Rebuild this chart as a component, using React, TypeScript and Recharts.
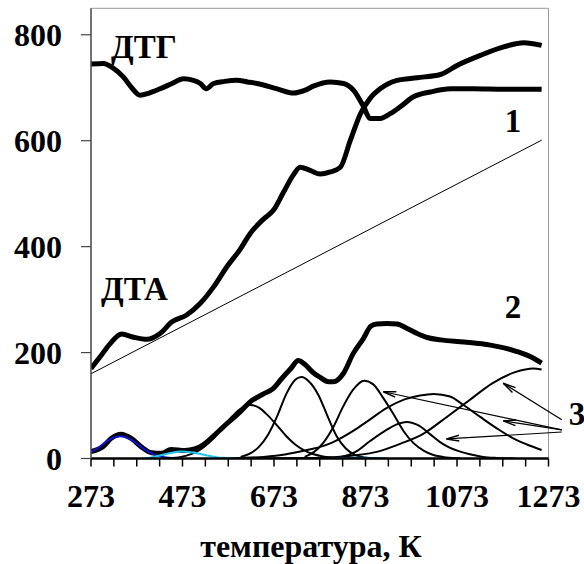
import React from 'react';
import {
  LineChart,
  Line,
  XAxis,
  YAxis,
  ReferenceLine,
  Customized,
} from 'recharts';

// temperature axis, K
const majorTicks = [273, 473, 673, 873, 1073, 1273];
const allTicks = [
  273, 323, 373, 423, 473, 523, 573, 623, 673, 723, 773, 823, 873, 923, 973,
  1023, 1073, 1123, 1173, 1223, 1273,
];
const yTicks = [0, 200, 400, 600, 800];

// 1 - linear heating line
const lineT = [273, 1258];
const lineV = [160, 601];

// ДТГ
const dtgT = [
  273, 300, 320, 344, 362, 380, 400, 424, 450, 475, 497, 512, 525, 541, 565,
  592, 615, 636, 680, 716, 740, 759, 796, 825, 847, 869, 883, 905, 927, 949,
  978, 1015, 1059, 1110, 1175, 1258,
];
const dtgV = [
  745, 746, 738, 720, 700, 686, 690, 698, 708, 717, 714, 708, 698, 708, 712,
  714, 711, 708, 698, 690, 695, 703, 711, 708, 695, 664, 642, 642, 651, 664,
  683, 692, 698, 698, 697, 697,
];

// ДТА
const dtaT = [
  273, 293, 315, 340, 366, 395, 424, 450, 482, 512, 541, 570, 599, 621, 650,
  672, 694, 715, 730, 752, 774, 796, 818, 840, 862, 883, 905, 942, 986, 1037,
  1073, 1124, 1175, 1219, 1258,
];
const dtaV = [
  170, 192, 217, 235, 229, 225, 236, 258, 271, 293, 324, 362, 395, 425, 452,
  469, 503, 535, 550, 544, 537, 541, 550, 601, 651, 680, 698, 714, 719, 725,
  742, 761, 777, 785, 780,
];

// 2 - baseline-corrected DTA
const sumT = [
  273, 299, 317, 339, 361, 383, 405, 427, 448, 478, 500, 520, 540, 560, 599,
  621, 650, 671, 690, 710, 726, 740, 759, 774, 792, 803, 825, 846, 868, 885,
  898, 920, 942, 965, 986, 1010, 1037, 1088, 1146, 1204, 1234, 1258,
];
const sumV = [
  13, 22, 38, 46, 38, 22, 11, 10, 17, 15, 18, 27, 42, 58, 88, 107, 122, 132,
  151, 170, 185, 178, 162, 153, 145, 145, 161, 198, 226, 250, 254, 255, 254,
  245, 236, 228, 224, 220, 214, 202, 192, 180,
];

// 3 - deconvoluted peaks
const pkBlueT = [273, 290, 305, 320, 337, 355, 370, 385, 400, 415, 430, 450, 470];
const pkBlueV = [12, 21, 31, 39, 42, 38, 30, 20, 12, 6, 3, 1, 0];

const pkCyanT = [390, 410, 430, 450, 470, 490, 510, 530, 550, 570, 590];
const pkCyanV = [0, 3, 7, 11, 13, 12, 9, 5, 2, 1, 0];

const pkSmallT = [800, 830, 860, 890, 920];
const pkSmallV = [0, 1, 1.5, 1, 0];

const pkAT = [450, 480, 500, 520, 540, 560, 580, 600, 621, 640, 660, 680, 700, 720, 740, 760, 780, 800, 830];
const pkAV = [1, 5, 11, 22, 37, 57, 78, 94, 101, 96, 81, 62, 42, 26, 15, 8, 4, 2, 0];

const pkBT = [600, 620, 640, 660, 680, 700, 720, 733, 750, 770, 790, 810, 830, 850, 870, 900];
const pkBV = [3, 9, 22, 45, 80, 122, 149, 154, 145, 120, 80, 42, 19, 7, 2, 0];

const pkCT = [740, 760, 781, 803, 824, 846, 870, 890, 912, 934, 956, 978, 1000, 1020, 1050, 1080];
const pkCV = [3, 12, 30, 60, 98, 130, 147, 140, 114, 84, 52, 29, 15, 7, 2, 0];

const pkDT = [560, 600, 650, 700, 740, 774, 800, 846, 880, 919, 960, 992, 1022, 1058, 1087, 1123, 1160, 1196, 1233, 1258];
const pkDV = [0, 1, 3, 8, 15, 22, 30, 52, 72, 95, 112, 119, 122, 117, 101, 79, 57, 38, 24, 16];

const pkET = [760, 790, 820, 850, 883, 919, 940, 963, 990, 1014, 1036, 1058, 1080, 1101, 1130, 1160, 1200];
const pkEV = [0, 1, 3, 12, 33, 54, 64, 69, 62, 46, 31, 20, 13, 8, 3, 1, 0];

const pkFT = [650, 700, 750, 800, 850, 900, 950, 1000, 1050, 1100, 1150, 1200, 1240, 1258];
const pkFV = [0, 0.5, 1, 2, 6, 13, 28, 47, 78, 110, 142, 163, 170, 168];

// arrows from label "3" to the peaks
const arrowFrom = [
  { x: 1302, y: 73 },
  { x: 1302, y: 54 },
  { x: 1302, y: 54 },
  { x: 1302, y: 50 },
];
const arrowTo = [
  { x: 1174, y: 142 },
  { x: 912, y: 126 },
  { x: 1174, y: 71 },
  { x: 1050, y: 37 },
];

const pts = (t: number[], v: number[]) => t.map((x, i) => ({ x, y: v[i] }));

const FONT = '"Liberation Serif", "Times New Roman", serif';

const XTick = (props: any) => {
  const { x, y, payload } = props;
  if (!majorTicks.includes(payload.value)) return <g />;
  return (
    <text
      x={x}
      y={y}
      dy="0.71em"
      textAnchor="middle"
      fontFamily={FONT}
      fontWeight="bold"
      fontSize={32}
      fill="#000"
    >
      {payload.value}
    </text>
  );
};

const YTick = (props: any) => {
  const { x, y, payload } = props;
  return (
    <text
      x={x}
      y={y}
      dy="0.355em"
      textAnchor="end"
      fontFamily={FONT}
      fontWeight="bold"
      fontSize={32}
      fill="#000"
    >
      {payload.value}
    </text>
  );
};

const Arrow = (props: any) => {
  const { x1, y1, x2, y2 } = props;
  const a = Math.atan2(y2 - y1, x2 - x1);
  const len = 13;
  const w = 0.22;
  const p1 = [x2 - len * Math.cos(a - w), y2 - len * Math.sin(a - w)];
  const p2 = [x2 - len * Math.cos(a + w), y2 - len * Math.sin(a + w)];
  return (
    <g>
      <line x1={x1} y1={y1} x2={x2} y2={y2} stroke="#000" strokeWidth={1.2} />
      <path
        d={`M${p1[0]},${p1[1]} L${x2},${y2} L${p2[0]},${p2[1]}`}
        fill="none"
        stroke="#000"
        strokeWidth={1.5}
      />
    </g>
  );
};

const Labels = () => (
  <g fontFamily={FONT} fontWeight="bold" fontSize={33} fill="#000">
    <text x={111} y={58}>ДТГ</text>
    <text x={101} y={300}>ДТА</text>
    <text x={513} y={132} textAnchor="middle">1</text>
    <text x={513} y={318} textAnchor="middle">2</text>
    <text x={577} y={425} textAnchor="middle">3</text>
    <text x={311} y={557} textAnchor="middle" fontSize={32}>
      температура, К
    </text>
  </g>
);

const thin = (data: { x: number; y: number }[], color: string, key: string, w = 2) => (
  <Line
    key={key}
    data={data}
    dataKey="y"
    type="monotone"
    stroke={color}
    strokeWidth={w}
    dot={false}
    activeDot={false}
    isAnimationActive={false}
  />
);

export default function App() {
  return (
    <div style={{ position: 'absolute', left: 0, top: 0, background: '#fff' }}>
      <LineChart
        width={584}
        height={564}
        margin={{ top: 8.3, right: 35.5, left: 0, bottom: 0 }}
      >
        <XAxis
          type="number"
          dataKey="x"
          domain={[273, 1273]}
          ticks={allTicks}
          interval={0}
          allowDataOverflow
          height={105.5}
          tickSize={8}
          tickMargin={18}
          tick={<XTick />}
          axisLine={{ stroke: '#000', strokeWidth: 2.5 }}
          tickLine={{ stroke: '#000', strokeWidth: 1.5 }}
        />
        <YAxis
          type="number"
          domain={[0, 850]}
          ticks={yTicks}
          interval={0}
          allowDataOverflow
          width={91}
          tickSize={10}
          tickMargin={19}
          tick={<YTick />}
          axisLine={{ stroke: '#444', strokeWidth: 1.5 }}
          tickLine={{ stroke: '#444', strokeWidth: 1.2 }}
        />
        <ReferenceLine y={850} stroke="#999" strokeWidth={1} />
        <ReferenceLine x={1273} stroke="#999" strokeWidth={1} />

        {thin(pts(pkAT, pkAV), '#000', 'a')}
        {thin(pts(pkBT, pkBV), '#000', 'b')}
        {thin(pts(pkCT, pkCV), '#000', 'c')}
        {thin(pts(pkDT, pkDV), '#000', 'd')}
        {thin(pts(pkET, pkEV), '#000', 'e')}
        {thin(pts(pkFT, pkFV), '#000', 'f')}
        {thin(pts(lineT, lineV), '#000', 'line1', 1)}

        {thin(pts(dtgT, dtgV), '#000', 'dtg', 5)}
        {thin(pts(dtaT, dtaV), '#000', 'dta', 5)}
        {thin(pts(sumT, sumV), '#000', 'sum', 5)}

        {thin(pts(pkBlueT, pkBlueV), '#1010D0', 'blue')}
        {thin(pts(pkCyanT, pkCyanV), '#20C4F0', 'cyan')}
        {thin(pts(pkSmallT, pkSmallV), '#0070C0', 'small')}

        {arrowFrom.map((s, i) => (
          <ReferenceLine
            key={'arr' + i}
            segment={[s, arrowTo[i]]}
            ifOverflow="visible"
            shape={<Arrow />}
          />
        ))}
        <Customized component={Labels} />
      </LineChart>
    </div>
  );
}
